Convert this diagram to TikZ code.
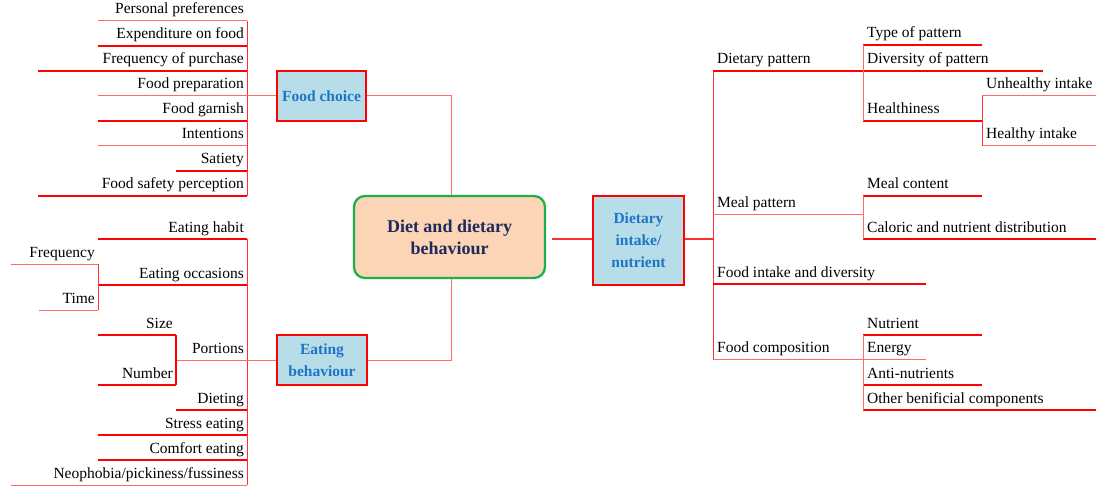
\documentclass[tikz,border=0pt]{standalone}
\usepackage{fontspec}
\setmainfont{Liberation Serif}
\definecolor{boxblue}{HTML}{B7DEE8}
\definecolor{txtblue}{HTML}{1E74C6}
\definecolor{peach}{HTML}{FBD5B5}
\definecolor{grn}{HTML}{1DAF4B}
\definecolor{navy}{HTML}{1F2A5C}
\definecolor{pinkl}{HTML}{FF6A6A}
\definecolor{linered}{HTML}{FF3030}
\tikzset{
  thickl/.style={draw=red, line width=1.7pt},
  thinl/.style={draw=pinkl, line width=1pt},
  midl/.style={draw=red, line width=1.1pt},
  vl/.style={draw=linered, line width=1pt},
  conn/.style={draw=linered, line width=1.2pt},
  lbl/.style={font=\fontsize{15.5}{18}\selectfont, inner sep=0pt, text=black},
  cbox/.style={draw=red, line width=1.8pt, fill=boxblue, font=\fontsize{15.5}{22}\selectfont\bfseries, text=txtblue, align=center, inner sep=0pt},
  mainbox/.style={draw=grn, line width=2.3pt, fill=peach, rounded corners=11pt, font=\fontsize{18}{22}\selectfont\bfseries, text=navy, align=center, inner sep=0pt},
}
% left item: name, text, y, x0, x1, style
\newcommand\leftitem[6]{%
  \coordinate (#1a) at (#4,#3);
  \coordinate (#1b) at (#5,#3);
  \draw[#6] (#1a) -- (#1b);
  \node[lbl, anchor=base east] (#1) at ([xshift=-3pt,yshift=7pt]#1b) {#2};
}
% right item: name, text, y, x0, x1, style
\newcommand\rightitem[6]{%
  \coordinate (#1a) at (#4,#3);
  \coordinate (#1b) at (#5,#3);
  \draw[#6] (#1a) -- (#1b);
  \node[lbl, anchor=base west] (#1) at ([xshift=4pt,yshift=7pt]#1a) {#2};
}
\begin{document}
\begin{tikzpicture}[x=1pt,y=-1pt]
\useasboundingbox (0,0) rectangle (1107,489);

% ---------- boxes ----------
\node[mainbox, minimum width=191pt, minimum height=82pt] (diet) at (449.5,237) {Diet and dietary\\behaviour};
\node[cbox, minimum width=89pt, minimum height=50pt] (fc) at (321.5,96) {Food choice};
\node[cbox, minimum width=90pt, minimum height=50pt] (eb) at (322,360) {Eating\\behaviour};
\node[cbox, minimum width=91pt, minimum height=89pt] (di) at (638.5,240.5) {Dietary\\intake/\\nutrient};

% ---------- Food choice branch ----------
\coordinate (fcv1) at (247,21);
\coordinate (fcv2) at (247,196);
\draw[vl] (fcv1) -- (fcv2);
\leftitem{pp}{Personal preferences}{21}{98}{247}{thinl}
\leftitem{ef}{Expenditure on food}{46}{98}{247}{thickl}
\leftitem{fop}{Frequency of purchase}{71}{38}{247}{thickl}
\leftitem{fpr}{Food preparation}{96}{98}{247}{thinl}
\leftitem{fg}{Food garnish\ }{121}{98}{247}{thickl}
\leftitem{int}{Intentions}{146}{98}{247}{thinl}
\leftitem{sat}{Satiety}{171}{176}{247}{thickl}
\leftitem{fsp}{Food safety perception}{196}{38}{247}{thickl}
\draw[thinl] (fprb) -- (fc.west);
\coordinate (fcj) at (451,96);
\draw[thinl] (fc.east) -- (fcj) -- (diet.north -| fcj);

% ---------- Eating behaviour branch ----------
\coordinate (ebv1) at (247,239);
\coordinate (ebv2) at (247,485);
\draw[vl] (ebv1) -- (ebv2);
\leftitem{eh}{Eating habit}{239}{98}{247}{thickl}
\leftitem{eo}{Eating occasions}{285}{98}{247}{thickl}
\leftitem{por}{Portions}{360}{176}{247}{thinl}
\leftitem{die}{Dieting}{410}{176}{247}{thickl}
\leftitem{se}{Stress eating}{435}{98}{247}{thickl}
\leftitem{ce}{Comfort eating}{460}{98}{247}{thickl}
\leftitem{neo}{Neophobia/pickiness/fussiness}{485}{11}{247}{thinl}
\leftitem{freq}{Frequency}{264}{11}{98}{thinl}
\leftitem{time}{Time}{310}{39}{98}{thinl}
\draw[vl] (freqb) -- (timeb);
\leftitem{size}{Size}{335}{98}{176}{thickl}
\leftitem{num}{Number}{385}{98}{176}{midl}
\draw[midl] (sizeb) -- (numb);
\draw[thinl] (porb) -- (eb.west);
\coordinate (ebj) at (451,360);
\draw[thinl] (eb.east) -- (ebj) -- (diet.south -| ebj);

% ---------- Dietary intake branch ----------
\coordinate (rv) at (713,239);
\coordinate (dl) at (552,239);
\draw[conn] (dl) -- (di.west |- rv);
\draw[conn] (di.east |- rv) -- (rv);
\coordinate (rv1) at (713,71);
\coordinate (rv2) at (713,359);
\draw[vl] (rv1) -- (rv2);
\rightitem{dp}{Dietary pattern}{71}{713}{863}{thickl}
\rightitem{mp}{Meal pattern}{214}{713}{863}{thinl}
\rightitem{fid}{Food intake and diversity}{284}{713}{926}{thickl}
\rightitem{fco}{Food composition}{359}{713}{863}{thinl}

\rightitem{top}{Type of pattern}{45}{863}{982}{thickl}
\rightitem{dop}{Diversity of pattern}{71}{863}{1043}{thickl}
\rightitem{hl}{Healthiness}{121}{863}{982}{thickl}
\draw[thinl] (topa) -- (hla);
\rightitem{ui}{Unhealthy intake}{96}{982}{1096}{thinl}
\rightitem{hi}{Healthy intake}{146}{982}{1096}{thinl}
\draw[vl] (uia) -- (hia);

\rightitem{mc}{Meal content}{196}{863}{982}{thickl}
\rightitem{cnd}{Caloric and nutrient distribution}{239}{863}{1096}{thickl}
\draw[thinl] (mca) -- (cnda);

\rightitem{nut}{Nutrient}{335}{863}{982}{thickl}
\rightitem{en}{Energy}{359}{863}{926}{thinl}
\rightitem{an}{Anti-nutrients}{385}{863}{982}{midl}
\rightitem{obc}{Other benificial components}{410}{863}{1096}{thickl}
\draw[thinl] (nuta) -- (obca);
\end{tikzpicture}
\end{document}
